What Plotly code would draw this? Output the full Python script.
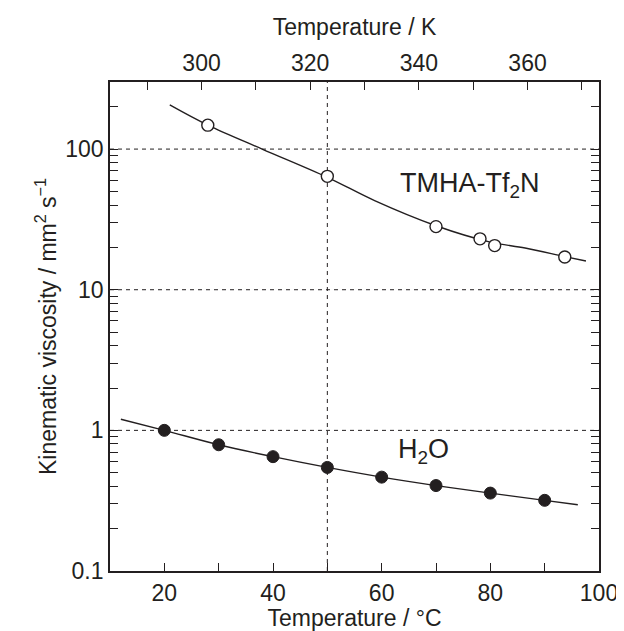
import plotly.graph_objects as go

# measured points
tmha_temp = [28.0, 50.0, 70.0, 78.1, 80.8, 93.7]
tmha_visc = [148, 64, 28.1, 23.0, 20.6, 17.1]
water_temp = [20, 30, 40, 50, 60, 70, 80, 90]
water_visc = [1.0, 0.79, 0.65, 0.545, 0.465, 0.405, 0.358, 0.318]

# fitted curves
tmha_fit_temp = [21.0, 28.0, 38.0, 50.0, 58.7, 70.0, 80.0, 86.4, 93.7, 97.6]
tmha_fit_visc = [206, 148, 100, 63, 43, 28.5, 21.8, 19.8, 17.2, 16.0]
water_fit_temp = [12.0, 20, 30, 40, 50, 60, 70, 80, 90, 96.1]
water_fit_visc = [1.20, 1.0, 0.79, 0.65, 0.545, 0.465, 0.405, 0.358, 0.318, 0.296]

grid_levels = [1, 10, 100]
ref_temp = 50
y_ticks = [0.1, 1, 10, 100]
y_labels = ["0.1", "1", "10", "100"]
kelvin_ticks = [300, 320, 340, 360]

FONT = "Liberation Sans, Arial, Helvetica, sans-serif"
BLACK = "#231f20"

fig = go.Figure()

fig.add_trace(go.Scatter(x=tmha_fit_temp, y=tmha_fit_visc, mode="lines",
                         line=dict(color=BLACK, width=1.4, shape="spline"),
                         showlegend=False, hoverinfo="skip"))
fig.add_trace(go.Scatter(x=water_fit_temp, y=water_fit_visc, mode="lines",
                         line=dict(color=BLACK, width=1.4, shape="spline"),
                         showlegend=False, hoverinfo="skip"))
fig.add_trace(go.Scatter(x=tmha_temp, y=tmha_visc, mode="markers",
                         marker=dict(size=12, color="white", line=dict(color=BLACK, width=1.4)),
                         showlegend=False))
fig.add_trace(go.Scatter(x=water_temp, y=water_visc, mode="markers",
                         marker=dict(size=12, color=BLACK, line=dict(color=BLACK, width=1)),
                         showlegend=False))
# invisible trace to activate the kelvin axis
fig.add_trace(go.Scatter(x=[t + 273.15 for t in water_temp], y=water_visc, xaxis="x2",
                         mode="markers", marker=dict(opacity=0), showlegend=False,
                         hoverinfo="skip"))

for lvl in grid_levels:
    fig.add_hline(y=lvl, line=dict(color=BLACK, width=1, dash="4px,4px"), layer="below")
fig.add_vline(x=ref_temp, line=dict(color=BLACK, width=1, dash="4px,4px"), layer="below")

fig.add_annotation(x=76.3, y=1.745, text="TMHA-Tf<sub>2</sub>N", showarrow=False,
                   font=dict(size=27, color=BLACK, family=FONT))
fig.add_annotation(x=67.7, y=-0.15, text="H<sub>2</sub>O", showarrow=False,
                   font=dict(size=27, color=BLACK, family=FONT))

axis_common = dict(showline=True, linecolor=BLACK, linewidth=1.8, ticks="inside",
                   ticklen=8, tickwidth=1.3, tickcolor=BLACK, showgrid=False,
                   zeroline=False, tickfont=dict(size=23, color=BLACK, family=FONT))

fig.update_layout(
    width=624, height=631,
    margin=dict(l=102, r=33, t=74, b=68),
    plot_bgcolor="white", paper_bgcolor="white",
    font=dict(family=FONT, color=BLACK),
    xaxis=dict(range=[10, 100], dtick=20, tick0=0,
               minor=dict(dtick=10, ticks="inside", ticklen=8, tickwidth=1.3, tickcolor=BLACK),
               title=dict(text="Temperature / °C", font=dict(size=23), standoff=4),
               **axis_common),
    xaxis2=dict(range=[283.15, 373.15], overlaying="x", side="top",
                tickvals=kelvin_ticks,
                minor=dict(dtick=10, tick0=0, ticks="inside", ticklen=8, tickwidth=1.3, tickcolor=BLACK),
                title=dict(text="Temperature / K", font=dict(size=23), standoff=8),
                **axis_common),
    yaxis=dict(type="log", range=[-1, 2.477], tickvals=y_ticks, ticktext=y_labels,
               mirror="allticks",
               minor=dict(ticks="inside", ticklen=8, tickwidth=1.3, tickcolor=BLACK,
                          tickvals=[m * 10 ** e for e in (-1, 0, 1, 2) for m in range(2, 10)]),
               title=dict(text="Kinematic viscosity / mm<sup>2</sup> s<sup>−1</sup>",
                          font=dict(size=23), standoff=2),
               **axis_common),
)

fig.write_html("out.html")
